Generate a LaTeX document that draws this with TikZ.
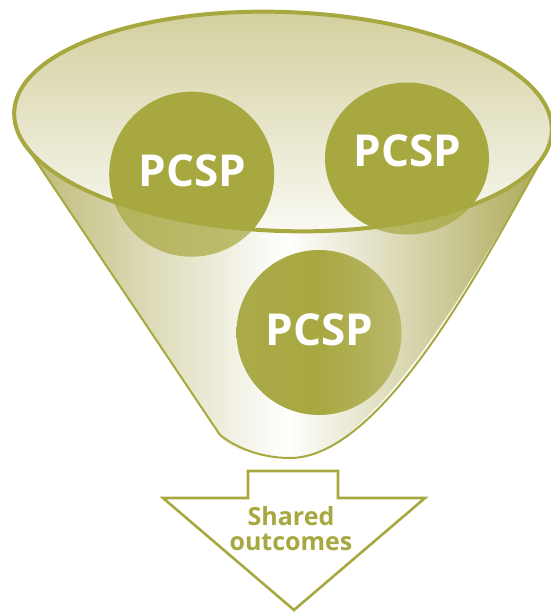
\documentclass[tikz,border=0pt]{standalone}
\usepackage{fontspec}
\setmainfont{Open Sans}
\usetikzlibrary{calc}
\definecolor{oliveg}{HTML}{A8A841}
\definecolor{coneL}{HTML}{BDBA76}
\definecolor{coneR}{HTML}{ACA956}
\definecolor{ellT}{HTML}{D2CF9C}
\definecolor{ellB}{HTML}{FAFAF5}
\definecolor{bcL}{HTML}{ABAA49}
\definecolor{bcR}{HTML}{B9B86C}
\tikzset{
  pcsp/.style={text=white, font=\fontsize{44}{44}\selectfont\bfseries, inner sep=0pt},
  outtext/.style={text=oliveg, font=\fontsize{25}{25}\selectfont\bfseries, align=center, inner sep=0pt},
  arrowbox/.style={draw=oliveg, line width=2.6pt, fill=white, line join=miter},
  rimrot/.style={rotate around={-2:(E)}},
}
\begin{document}
\begin{tikzpicture}[x=1pt,y=-1pt]
\useasboundingbox (0,0) rectangle (550,613);
% geometry
\coordinate (E) at (283,121.5);
\begin{scope}[shift={(E)}, rotate=-2]
  \coordinate (L) at (161.5:269 and 109.5);
  \coordinate (R) at (12:269 and 109.5);
\end{scope}
\coordinate (BL) at (220,435);
\coordinate (BM) at (290,458);
\def\conefront{(L) -- (BL) .. controls (235,447) and (260,458) .. (BM) .. controls (385,458) and (490,250) .. (R) arc[start angle=12, end angle=161.5, x radius=269, y radius=109.5] -- cycle}
\def\rim{(E) ellipse [x radius=269, y radius=109.5]}
\def\topcircles{(191.7,174.2) circle [radius=82.5] (407,158.5) ellipse [x radius=82, y radius=76]}
% cone front
\begin{scope}[rimrot]
\shade[left color=coneL, right color=coneR, middle color=white] \conefront;
\end{scope}
% opening
\begin{scope}[rimrot]
\shade[top color=ellT, bottom color=ellB] \rim;
\end{scope}
% top circles inside opening
\begin{scope}
  \clip[rimrot] \rim;
  \fill[oliveg] \topcircles;
\end{scope}
% top circles seen through front wall
\begin{scope}
  \clip[rimrot] \conefront;
  \fill[oliveg, fill opacity=0.72] \topcircles;
\end{scope}
% outlines
\draw[oliveg, line width=2pt, line join=round] (L) -- (BL) .. controls (235,447) and (260,458) .. (BM) .. controls (385,458) and (490,250) .. (R);
\draw[oliveg, line width=4pt, rimrot] \rim;
% bottom circle
\shade[left color=bcL, right color=bcR, middle color=oliveg] (319,332.5) circle [radius=82.5];
% labels
\node[pcsp] (p1) at (192.5,171) {PCSP};
\node[pcsp] (p2) at (407.5,150.5) {PCSP};
\node[pcsp] (p3) at (319.5,330) {PCSP};
% arrow
\draw[arrowbox] (248,471) -- (338,471) -- (338,498) -- (425,498) -- (294,610) -- (163,498) -- (248,498) -- cycle;
\node[outtext] (so) at (291,529) {Shared\\outcomes};
\end{tikzpicture}
\end{document}
